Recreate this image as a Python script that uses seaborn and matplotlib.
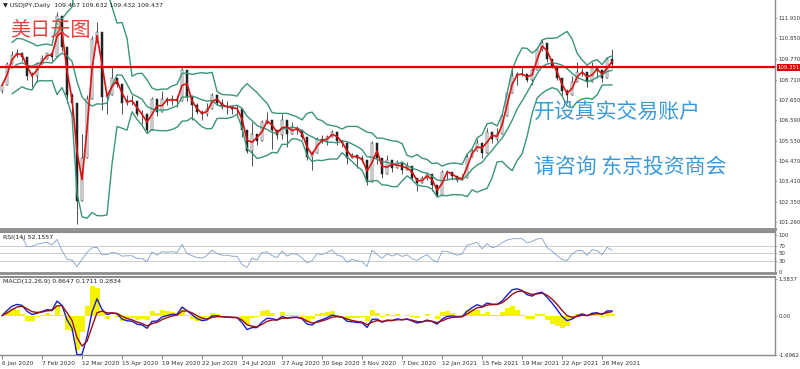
import numpy as np
import pandas as pd
import matplotlib
matplotlib.use("Agg")
import matplotlib.pyplot as plt
import seaborn as sns

# ---------------- data (sampled every 3 trading days from 6 Jan 2020) ----------------
step = 3
first_open = 108.1
close = [108.4, 109.5, 110.0, 110.1, 109.9, 108.9, 108.9, 109.5, 109.8, 110.1,
         109.9, 112.0, 110.4, 107.9, 107.5, 102.4, 104.6, 107.7, 110.8, 111.2,
         107.8, 107.9, 108.8, 108.5, 107.5, 107.6, 107.6, 106.9, 106.9, 106.1,
         107.7, 107.0, 107.7, 107.6, 107.7, 107.6, 109.2, 107.8, 107.4, 107.0,
         106.9, 107.2, 107.9, 107.5, 107.3, 107.3, 107.2, 107.2, 106.1, 105.0,
         105.9, 105.5, 106.5, 106.6, 106.1, 105.8, 106.6, 105.9, 106.2, 106.1,
         105.7, 104.7, 104.9, 105.6, 105.5, 105.7, 106.0, 105.5, 105.4, 104.6,
         104.8, 104.6, 104.5, 103.4, 105.4, 104.6, 103.8, 104.5, 104.1, 104.4,
         104.0, 104.2, 103.6, 103.3, 103.6, 103.8, 103.2, 102.7, 103.9, 103.9,
         103.7, 103.5, 103.6, 104.7, 105.0, 105.4, 104.9, 106.0, 105.6, 105.9,
         106.8, 108.0, 108.9, 109.0, 109.0, 108.7, 109.2, 110.3, 110.6, 109.8,
         109.4, 108.8, 108.1, 107.9, 108.6, 109.1, 109.1, 108.6, 109.3, 109.2,
         108.8, 109.8, 109.5]
high = [108.6, 109.6, 110.2, 110.3, 110.0, 109.2, 109.1, 109.6, 110.0, 110.1,
        110.0, 112.2, 111.2, 109.7, 108.0, 105.0, 105.9, 107.9, 111.0, 111.7,
        108.2, 108.0, 109.4, 108.7, 107.8, 107.9, 107.9, 107.3, 107.1, 106.6,
        107.8, 107.3, 108.1, 107.8, 107.9, 107.9, 109.3, 108.6, 107.6, 107.5,
        107.1, 107.5, 108.0, 107.6, 107.7, 107.6, 107.4, 107.4, 106.8, 105.3,
        106.5, 105.8, 106.6, 107.0, 106.1, 106.0, 106.9, 106.0, 106.5, 106.3,
        106.1, 105.1, 105.0, 105.7, 105.8, 105.8, 106.1, 105.5, 105.5, 105.0,
        104.9, 104.7, 104.8, 103.8, 105.5, 104.7, 104.0, 104.8, 104.3, 104.5,
        104.2, 104.4, 104.1, 103.4, 103.7, 103.8, 103.4, 103.2, 104.0, 104.0,
        103.9, 103.7, 103.8, 104.9, 105.1, 105.6, 104.9, 106.2, 105.9, 106.2,
        106.9, 108.1, 109.2, 109.1, 109.4, 108.9, 109.3, 110.4, 110.8, 110.2,
        109.8, 109.1, 108.6, 108.2, 108.9, 109.6, 109.3, 108.9, 109.6, 109.3,
        108.9, 109.9, 110.3]
low = [108.0, 108.9, 109.8, 109.9, 109.7, 108.7, 108.3, 108.6, 109.6, 109.8,
       109.7, 110.8, 110.2, 107.5, 106.8, 101.2, 103.1, 105.2, 109.4, 110.6,
       107.1, 106.9, 108.6, 108.3, 106.9, 107.4, 107.4, 106.8, 106.4, 106.0,
       106.9, 106.8, 107.2, 107.4, 107.4, 107.3, 108.8, 107.6, 106.6, 106.9,
       106.6, 106.8, 107.5, 107.4, 107.2, 106.9, 106.9, 106.8, 105.7, 104.9,
       104.2, 105.3, 105.9, 106.4, 105.1, 105.6, 105.6, 105.2, 106.0, 105.9,
       105.6, 104.5, 104.0, 105.2, 105.4, 105.3, 105.9, 105.3, 105.2, 104.3,
       104.6, 104.1, 104.4, 103.2, 105.0, 104.3, 103.6, 104.1, 103.9, 104.2,
       103.8, 104.0, 103.5, 102.9, 103.5, 103.5, 102.9, 102.6, 103.6, 103.5,
       103.5, 103.4, 103.5, 104.3, 104.8, 105.2, 104.6, 105.3, 105.4, 105.5,
       106.4, 106.9, 108.7, 108.4, 108.9, 108.6, 108.4, 109.6, 110.2, 109.6,
       109.3, 108.7, 107.9, 107.5, 108.4, 109.0, 108.9, 108.3, 109.2, 108.8,
       108.6, 108.9, 109.3]

hline_price = 109.351
price_ticks = [111.910, 110.850, 109.770, 108.710, 107.650, 106.590,
               105.530, 104.470, 103.410, 102.350, 101.290]
rsi_ticks = [100, 70, 50, 30, 0]
rsi_levels = [70, 50, 30]
macd_ticks = [1.5837, 0.0, -1.6962]
macd_ticklabels = ["1.5837", "0.00", "-1.6962"]
date_labels = ["6 Jan 2020", "7 Feb 2020", "12 Mar 2020", "15 Apr 2020", "19 May 2020",
               "22 Jun 2020", "24 Jul 2020", "27 Aug 2020", "30 Sep 2020", "3 Nov 2020",
               "7 Dec 2020", "12 Jan 2021", "15 Feb 2021", "19 Mar 2021", "22 Apr 2021",
               "26 May 2021"]
date_positions = [0, 24, 48, 72, 96, 120, 144, 168, 192, 216, 240, 264, 288, 312, 336, 360]

header = "\u25bc USDJPY,Daily  109.467 109.632 109.432 109.437"
rsi_header = "RSI(14) 52.1557"
macd_header = "MACD(12,26,9) 0.8647 0.1711 0.2834"
title_cn = "美日天图"
ad1 = "开设真实交易账户"
ad2 = "请咨询 东京投资商会"

# ---------------- derived table ----------------
df = pd.DataFrame({"x": np.arange(len(close)) * step, "close": close,
                   "high": high, "low": low})
df["open"] = df["close"].shift(1).fillna(first_open)
df["hi"] = df[["high", "open", "close"]].max(axis=1)
df["lo"] = df[["low", "open", "close"]].min(axis=1)
df["ma"] = df["close"].rolling(2, min_periods=1).mean()
mid = df["close"].rolling(7, min_periods=3).mean()
sd = df["close"].rolling(7, min_periods=3).std(ddof=0)
df["bb_mid"], df["bb_up"], df["bb_lo"] = mid, mid + 2 * sd, mid - 2 * sd
delta = df["close"].diff()
gain = delta.clip(lower=0).ewm(alpha=1 / 5, adjust=False).mean()
loss = (-delta.clip(upper=0)).ewm(alpha=1 / 5, adjust=False).mean()
df["rsi"] = 100 - 100 / (1 + gain / loss.replace(0, np.nan))
ema_f = df["close"].ewm(span=4, adjust=False).mean()
ema_s = df["close"].ewm(span=9, adjust=False).mean()
df["dif"] = ema_f - ema_s
df["dea"] = df["dif"].ewm(span=3, adjust=False).mean()
df["hist"] = 2 * (df["dif"] - df["dea"])

# ---------------- style ----------------
sns.set_theme(style="white")
plt.rcParams["font.family"] = ["DejaVu Sans"]
CJK = ["Noto Sans CJK SC", "DejaVu Sans"]

W, H = 800, 369
fig = plt.figure(figsize=(W / 100, H / 100), dpi=100)
fig.patch.set_facecolor("white")

def fx(px):
    return px / W

def fy(py):
    return 1 - py / H

right = fx(775)
ax = fig.add_axes([0, fy(229), right, fy(0) - fy(229)])
ax_rsi = fig.add_axes([0, fy(273), right, fy(232) - fy(273)], sharex=ax)
ax_macd = fig.add_axes([0, fy(355), right, fy(277) - fy(355)], sharex=ax)

xlim = (-1.2, 463.7)
grey = "#8c8c8c"
for a in (ax, ax_rsi, ax_macd):
    a.set_facecolor("white")
    a.set_xlim(*xlim)
    for s in ("left", "top"):
        a.spines[s].set_visible(False)
    a.spines["right"].set_color(grey)
    a.spines["right"].set_linewidth(1)
    a.spines["bottom"].set_color(grey)
    a.spines["bottom"].set_linewidth(2)
    a.yaxis.tick_right()
    a.tick_params(axis="y", length=1.5, width=0.5, color="#999999", labelsize=3.9,
                  labelcolor="#333333", pad=1.0, right=True, left=False)
    a.grid(False)
ax_rsi.spines["top"].set_visible(True)
ax_rsi.spines["top"].set_color(grey)
ax_rsi.spines["top"].set_linewidth(1.5)
ax_macd.spines["top"].set_visible(True)
ax_macd.spines["top"].set_color(grey)
ax_macd.spines["top"].set_linewidth(1.5)
ax_macd.spines["bottom"].set_linewidth(1)

# ---------------- main price panel ----------------
ax.set_ylim(100.93, 112.85)
ax.vlines(df["x"], df["lo"], df["hi"], color="#222222", linewidth=0.55, zorder=2)
up = df["close"] >= df["open"]
ax.bar(df["x"][up], (df["close"] - df["open"])[up], bottom=df["open"][up], width=1.5,
       color="white", edgecolor="#222222", linewidth=0.35, zorder=3)
ax.bar(df["x"][~up], (df["close"] - df["open"])[~up], bottom=df["open"][~up], width=1.5,
       color="#222222", edgecolor="#222222", linewidth=0.35, zorder=3)
green = "#3a957a"
for col in ("bb_up", "bb_mid", "bb_lo"):
    sns.lineplot(x=df["x"], y=df[col], ax=ax, color=green, linewidth=1.0, zorder=4)
sns.lineplot(x=df["x"], y=df["ma"], ax=ax, color="#d81414", linewidth=1.2, zorder=5)
ax.axhline(hline_price, color="#e00000", linewidth=1.6, zorder=6)
ax.set_yticks(price_ticks)
ax.set_yticklabels([f"{t:.3f}" for t in price_ticks])
ax.set_xlabel("")
ax.set_ylabel("")
ax.tick_params(axis="x", bottom=False, labelbottom=False)
ax.annotate(f"{hline_price:.3f}", xy=(1.0, hline_price),
            xycoords=("axes fraction", "data"), xytext=(2, 0), textcoords="offset points",
            va="center", ha="left", fontsize=3.9, color="white",
            bbox=dict(boxstyle="square,pad=0.2", facecolor="#e00000", edgecolor="none"),
            annotation_clip=False, zorder=10)

# ---------------- RSI panel ----------------
ax_rsi.set_ylim(-2.7, 108)
for lv in rsi_levels:
    ax_rsi.axhline(lv, color="#c4c4c4", linewidth=0.6, zorder=1)
sns.lineplot(x=df["x"], y=df["rsi"], ax=ax_rsi, color="#7d9fc8", linewidth=0.6, zorder=3)
ax_rsi.set_yticks(rsi_ticks)
ax_rsi.set_yticklabels([str(t) for t in rsi_ticks])
ax_rsi.set_xlabel("")
ax_rsi.set_ylabel("")
ax_rsi.tick_params(axis="x", bottom=False, labelbottom=False)

# ---------------- MACD panel ----------------
ax_macd.set_ylim(-1.70, 1.67)
ax_macd.bar(df["x"], df["hist"], width=3.0, color="#f4f400", linewidth=0, zorder=1)
sns.lineplot(x=df["x"], y=df["dif"], ax=ax_macd, color="#1c1cd0", linewidth=1.0, zorder=3)
sns.lineplot(x=df["x"], y=df["dea"], ax=ax_macd, color="#9a1010", linewidth=1.0, zorder=4)
ax_macd.set_yticks(macd_ticks)
ax_macd.set_yticklabels(macd_ticklabels)
ax_macd.set_xlabel("")
ax_macd.set_ylabel("")
ax_macd.set_xticks(date_positions)
ax_macd.set_xticklabels(date_labels)
ax_macd.tick_params(axis="x", bottom=True, direction="out", length=3, width=0.6,
                    color="#666666", labelsize=4.2, labelcolor="#333333", pad=1.5)
for lbl in ax_macd.get_xticklabels():
    lbl.set_ha("left")

# ---------------- texts ----------------
fig.text(fx(3), fy(5), header, fontsize=4.5, color="#222222", va="center", ha="left")
fig.text(fx(3), fy(237), rsi_header, fontsize=4.5, color="#222222", va="center", ha="left")
fig.text(fx(3), fy(282), macd_header, fontsize=4.5, color="#222222", va="center", ha="left")
fig.text(fx(10), fy(30), title_cn, fontsize=14.5, color="#e8413c", va="center", ha="left",
         family=CJK)
fig.text(fx(534), fy(112), ad1, fontsize=15, color="#3a9ad9", va="center", ha="left",
         family=CJK)
fig.text(fx(534), fy(167), ad2, fontsize=15, color="#3a9ad9", va="center", ha="left",
         family=CJK)

fig.savefig("out.png", dpi=100, facecolor="white")
